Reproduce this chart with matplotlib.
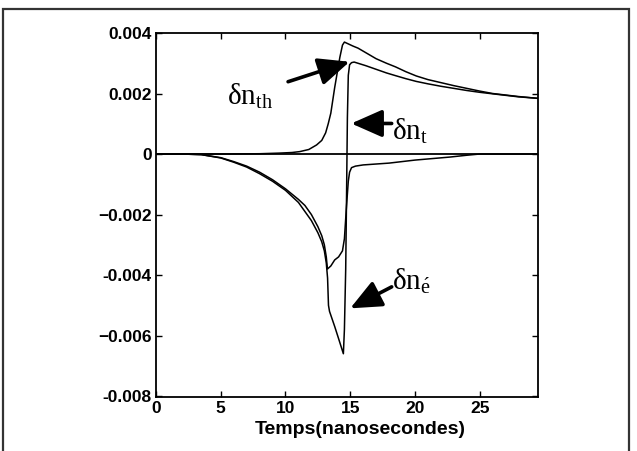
import numpy as np
import matplotlib
matplotlib.use('Agg')
import matplotlib.pyplot as plt
from matplotlib.patches import Rectangle

plt.rcParams['font.family'] = ['Liberation Sans', 'DejaVu Sans']
plt.rcParams['mathtext.fontset'] = 'custom'
plt.rcParams['mathtext.rm'] = 'Liberation Serif'
plt.rcParams['mathtext.it'] = 'Liberation Serif'
plt.rcParams['mathtext.default'] = 'rm'

# time axis values (ns) and the three curves
t_th = [0, 5, 8, 9.5, 10.5, 11.1, 11.8, 12.4, 12.8, 13.1, 13.3, 13.5, 13.8, 14.0, 14.2,
        14.4, 14.55, 14.8, 15.2, 15.6, 16.2, 17.0, 17.8, 18.5, 19.3, 20.1, 21.0, 22.0,
        23.0, 24.0, 25.0, 26.0, 27.0, 28.0, 29.5]
dn_th = [0, 0, 0.00001, 0.00003, 0.00005, 0.00008, 0.00015, 0.0003, 0.00045, 0.0007, 0.001,
         0.00135, 0.0022, 0.0027, 0.0032, 0.0036, 0.0037, 0.00365, 0.00357, 0.0035, 0.00335,
         0.00315, 0.003, 0.00288, 0.00272, 0.00258, 0.00246, 0.00236, 0.00226, 0.00217,
         0.00208, 0.002, 0.00195, 0.0019, 0.00184]

t_e = [0, 2, 3.5, 5, 6, 7, 8, 9, 10, 11, 11.5, 12, 12.5, 12.8, 13.0, 13.15, 13.24, 13.5,
       13.8, 14.1, 14.4, 14.55, 14.7, 14.85, 14.95, 15.1, 15.4, 16, 17, 18, 20, 22.7, 24, 25, 29.5]
dn_e = [0, 0, -0.00002, -0.00012, -0.00025, -0.0004, -0.0006, -0.00085, -0.00115, -0.0015,
        -0.0017, -0.002, -0.0024, -0.0027, -0.003, -0.0034, -0.0038, -0.0037, -0.0035, -0.0034,
        -0.0032, -0.0028, -0.0018, -0.0009, -0.0006, -0.00045, -0.0004, -0.00036, -0.00033,
        -0.0003, -0.0002, -0.0001, -0.00004, 0, 0]

t_t = [0, 2, 3.5, 5, 6, 7, 8, 9, 10, 11, 11.5, 12, 12.5, 12.8, 13.0, 13.15, 13.25, 13.32,
       13.4, 13.8, 14.1, 14.47, 14.55, 14.65, 14.72, 14.78, 14.85, 14.95, 15.1, 15.3, 15.6,
       16.2, 17.0, 17.8, 18.5, 19.3, 20.1, 21.0, 22.0, 23.0, 24.0, 25.0, 26.0, 27.0, 28.0, 29.5]
dn_t = [0, 0, -0.00002, -0.00013, -0.00027, -0.00043, -0.00065, -0.0009, -0.0012, -0.0016,
        -0.0019, -0.0022, -0.0026, -0.0029, -0.0032, -0.0036, -0.0041, -0.005, -0.0052,
        -0.0057, -0.0061, -0.0066, -0.0058, -0.0038, -0.0012, 0.0012, 0.0026, 0.00295,
        0.00302, 0.00304, 0.003, 0.00292, 0.0028, 0.00268, 0.00259, 0.00249, 0.0024,
        0.00232, 0.00224, 0.00217, 0.0021, 0.00204, 0.00199, 0.00194, 0.00189, 0.00184]

xticks = [0, 5, 10, 15, 20, 25]
yticks = [0.004, 0.002, 0, -0.002, -0.004, -0.006, -0.008]
ytick_labels = ['0.004', '0.002', '0', '\u22120.002', '-0.004', '\u22120.006', '-0.008']

fig = plt.figure(figsize=(6.37, 4.51), dpi=100)
fig.patches.append(Rectangle((3 / 637, -0.1), 626 / 637, 1.1 - 9 / 451,
                             transform=fig.transFigure, fill=False,
                             edgecolor='#333333', lw=1.6))
ax = fig.add_axes([156 / 637, 54 / 451, 382 / 637, 364 / 451])

ax.axhline(0, color='k', lw=1.3)
ax.plot(t_th, dn_th, color='k', lw=1.1)
ax.plot(t_e, dn_e, color='k', lw=1.1)
ax.plot(t_t, dn_t, color='k', lw=1.1)

ax.set_xlim(0, 29.5)
ax.set_ylim(-0.00803, 0.004)
ax.set_xticks(xticks)
ax.set_yticks(yticks)
ax.set_yticklabels(ytick_labels)
ax.tick_params(direction='in', length=4, width=1, top=True, right=True,
               labelsize=12.5, pad=3)
for lab in ax.get_xticklabels() + ax.get_yticklabels():
    lab.set_fontweight('bold')
for sp in ax.spines.values():
    sp.set_linewidth(1.3)
ax.set_xlabel('Temps(nanosecondes)', fontsize=14, fontweight='bold')
ax.xaxis.set_label_coords(0.535, -0.065)

arrow = dict(arrowstyle='-|>,head_length=0.95,head_width=0.42', color='k', lw=2.6,
             mutation_scale=20, shrinkA=0, shrinkB=0)
ax.annotate('', xy=(14.95, 0.00305), xytext=(10.2, 0.00239), arrowprops=arrow)
ax.annotate('', xy=(15.08, 0.00101), xytext=(18.2, 0.00101), arrowprops=arrow)
ax.annotate('', xy=(15.0, -0.0051), xytext=(18.2, -0.00439), arrowprops=arrow)

ax.text(5.45, 0.00192, r'$\delta n_{th}$', fontsize=21, va='center', ha='left')
ax.text(18.2, 0.00076, r'$\delta n_{t}$', fontsize=21, va='center', ha='left')
ax.text(18.25, -0.0042, r'$\delta n_{\acute{e}}$', fontsize=21, va='center', ha='left')

fig.savefig('out.png', dpi=100)
